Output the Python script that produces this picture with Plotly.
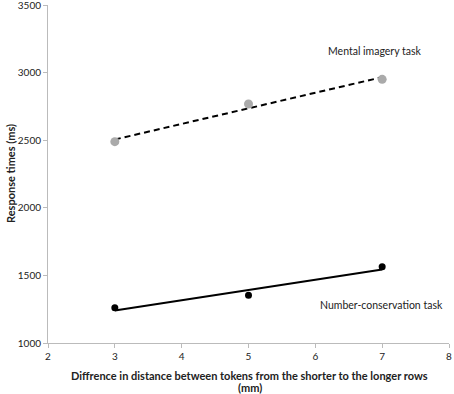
import numpy as np
import plotly.graph_objects as go

x_vals = [3, 5, 7]
mental_imagery = [2489, 2768, 2950]
number_conservation = [1261, 1353, 1564]
x_ticks = [2, 3, 4, 5, 6, 7, 8]
y_ticks = [1000, 1500, 2000, 2500, 3000, 3500]

def trend(xs, ys):
    m, c = np.polyfit(xs, ys, 1)
    return [m * x + c for x in xs]

FONT = "Lato"
fig = go.Figure()
fig.add_trace(go.Scatter(x=x_vals, y=trend(x_vals, mental_imagery), mode="lines",
                         line=dict(color="black", width=2, dash="6px,4px"), showlegend=False))
fig.add_trace(go.Scatter(x=x_vals, y=mental_imagery, mode="markers",
                         marker=dict(color="#aaaaaa", size=9), showlegend=False))
fig.add_trace(go.Scatter(x=x_vals, y=trend(x_vals, number_conservation), mode="lines",
                         line=dict(color="black", width=2), showlegend=False))
fig.add_trace(go.Scatter(x=x_vals, y=number_conservation, mode="markers",
                         marker=dict(color="black", size=7), showlegend=False))

fig.add_annotation(x=6.16, y=3160, text="Mental imagery task", showarrow=False,
                   xanchor="left", yanchor="middle", font=dict(family=FONT, size=10.5, color="#222"))
fig.add_annotation(x=7.94, y=1281, text="Number-conservation task", showarrow=False,
                   xanchor="right", yanchor="middle", font=dict(family=FONT, size=10.5, color="#222"))

# axis titles
fig.add_annotation(xref="paper", yref="paper", x=0.503, y=0, yshift=-32,
                   text="<b>Diffrence in distance between tokens from the shorter to the longer rows</b>",
                   showarrow=False, xanchor="center", yanchor="middle", borderpad=0,
                   font=dict(family=FONT, size=11, color="#222"))
fig.add_annotation(xref="paper", yref="paper", x=0.503, y=0, yshift=-44,
                   text="<b>(mm)</b>",
                   showarrow=False, xanchor="center", yanchor="middle", borderpad=0,
                   font=dict(family=FONT, size=11, color="#222"))
fig.add_annotation(xref="paper", yref="paper", x=0, xshift=-38, y=0.5,
                   text="<b>Response times (ms)</b>", textangle=-90,
                   showarrow=False, xanchor="center", yanchor="middle",
                   font=dict(family=FONT, size=11, color="#222"))

fig.update_layout(
    width=454, height=394, margin=dict(l=48, r=5, t=5, b=51, autoexpand=False),
    plot_bgcolor="white", paper_bgcolor="white",
    font=dict(family=FONT, size=10, color="#222"),
    xaxis=dict(range=[2, 8], tickvals=x_ticks, showgrid=False, zeroline=False,
               showline=True, linecolor="#bbbbbb", linewidth=1, automargin=False,
               ticks="outside", ticklen=4, tickcolor="#bbbbbb", ticklabeloverflow="allow"),
    yaxis=dict(range=[1000, 3500], tickvals=y_ticks, showgrid=False, zeroline=False,
               showline=True, linecolor="#bbbbbb", linewidth=1, automargin=False,
               ticks="outside", ticklen=4, tickcolor="#bbbbbb", ticklabeloverflow="allow"),
)
fig.write_html("out.html", config={"displayModeBar": False},
               post_script="document.body.style.margin='0px';")
